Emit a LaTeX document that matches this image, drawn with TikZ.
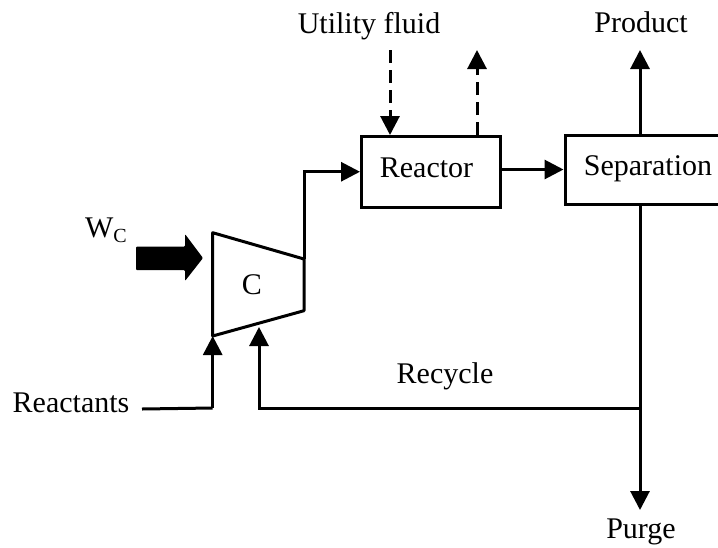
\documentclass[tikz,border=0pt]{standalone}
\usepackage{fontspec}
\setmainfont{Liberation Serif}
\usetikzlibrary{arrows.meta}
\tikzset{
  line/.style={line width=3pt,black},
  flow/.style={line,-{Triangle[length=19pt,width=19pt]}},
  util/.style={flow,dash pattern=on 13pt off 7pt},
  unit/.style={draw=black,line width=3pt,inner sep=0pt},
  lab/.style={anchor=base,inner sep=0pt,font=\fontsize{30}{30}\selectfont},
}
\begin{document}
\begin{tikzpicture}[x=1pt,y=-1pt]
\useasboundingbox (0,0) rectangle (718,547);
% units
\node[unit,minimum width=138.5pt,minimum height=70.5pt,text height=15.5pt,text depth=4pt,font=\fontsize{30}{30}\selectfont] (reactor) at (430.75,171.75) {Reactor\kern8.5pt};
\node[unit,minimum width=160pt,minimum height=69pt,text height=15pt,text depth=4pt,font=\fontsize{30}{30}\selectfont] (sep) at (645,169.5) {\kern6pt Separation};
% compressor
\coordinate (c1) at (212.7,232.7);
\coordinate (c2) at (304,259);
\coordinate (c3) at (304,310.7);
\coordinate (c4) at (212.7,336);
\draw[line,line join=round] (c1) -- (c2) -- (c3) -- (c4) -- cycle;
\node[lab] (clabel) at (252,294) {C};
% labels
\node[lab] (utility) at (369,33) {Utility fluid};
\node[lab] (product) at (641,32) {Product};
\node[lab] (purge) at (641,538) {Purge};
\node[lab] (recycle) at (445,383) {Recycle};
\node[lab] (reactants) at (71,412) {Reactants};
\node[lab] (wc) at (106,237) {W\raisebox{-5pt}{\fontsize{20}{20}\selectfont C}};
% free ends and branch points
\coordinate (utilin) at (390,50);
\coordinate (utilout) at (477,50);
\coordinate (prodend) at (640,50);
\coordinate (purgeend) at (640,510);
\coordinate (branch) at (640,408);
\coordinate (cin) at (259,327);
\coordinate (r0) at (142,409);
\coordinate (r1) at (212.7,408);
% connectors
\draw[flow] (c2) -- (c2 |- reactor.west) -- (reactor.west);
\draw[flow] (reactor.east |- sep.west) ++(0.5pt,0) -- (sep.west);
\draw[util] (utilin) -- (utilin |- reactor.north);
\draw[util] (utilout |- reactor.north) -- (utilout);
\draw[flow] (prodend |- sep.north) -- (prodend);
\draw[flow] (purgeend |- sep.south) -- (purgeend);
\draw[flow] (branch) -- (cin |- branch) -- (cin);
\draw[line] (r0) -- (r1);
\draw[flow] (r1) -- (c4);
% work arrow
\coordinate (w) at (136,258);
\fill[black,rounded corners=1pt] (w |- 0,246.7) -- (185,246.7) -- (185,234) -- (203,258) -- (185,281) -- (185,270) -- (w |- 0,270) -- cycle;
\end{tikzpicture}
\end{document}
